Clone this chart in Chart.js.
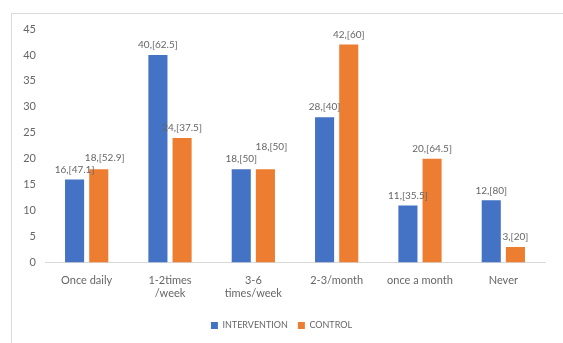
<!DOCTYPE html>
<html>
<head>
<meta charset="utf-8">
<script src="https://cdn.jsdelivr.net/npm/chart.js@4/dist/chart.umd.min.js"></script>
<style>
  html,body{margin:0;padding:0;background:#fff;}
  #frame{position:absolute;left:11px;top:13px;width:560px;height:340px;border-left:1px solid #d9d9d9;border-top:1px solid #d9d9d9;}
  #wrap{position:absolute;left:0;top:0;width:563px;height:343px;}
</style>
</head>
<body>
<div id="frame"></div>
<div id="wrap"><canvas id="c" width="563" height="343"></canvas></div>
<script>
const categories = ["Once daily", ["1-2times", "/week"], ["3-6", "times/week"], "2-3/month", "once a month", "Never"];
const interventionValues = [16, 40, 18, 28, 11, 12];
const interventionPct = [47.1, 62.5, 50, 40, 35.5, 80];
const controlValues = [18, 24, 18, 42, 20, 3];
const controlPct = [52.9, 37.5, 50, 60, 64.5, 20];
const yTicks = [0, 5, 10, 15, 20, 25, 30, 35, 40, 45];

const FONT = "Lato, 'Open Sans', sans-serif";
const TXT = "#666666";

const labelPlugin = {
  id: 'barLabels',
  afterDatasetsDraw(chart) {
    const ctx = chart.ctx;
    ctx.save();
    ctx.font = "10px " + FONT;
    ctx.fillStyle = TXT;
    ctx.textAlign = 'center';
    ctx.textBaseline = 'bottom';
    const placed = [];
    chart.data.datasets.forEach((ds, di) => {
      const meta = chart.getDatasetMeta(di);
      meta.data.forEach((bar, i) => {
        const txt = ds.data[i] + ",[" + ds.pct[i] + "]";
        const w = ctx.measureText(txt).width;
        let x = bar.x, y = bar.y - 5;
        placed.forEach(p => {
          if (Math.abs(p.x - x) < (p.w + w) / 2 + 2 && Math.abs(p.y - y) < 12) {
            y = p.y - 12;
            x = x + 6;
          }
        });
        placed.push({ x, y, w });
        ctx.fillText(txt, x, y);
      });
    });
    ctx.restore();
  }
};

new Chart(document.getElementById('c'), {
  type: 'bar',
  data: {
    labels: categories,
    datasets: [
      { label: 'INTERVENTION', data: interventionValues, pct: interventionPct, backgroundColor: '#4472C4' },
      { label: 'CONTROL', data: controlValues, pct: controlPct, backgroundColor: '#ED7D31' }
    ]
  },
  options: {
    responsive: false,
    animation: false,
    devicePixelRatio: 1,
    layout: { padding: { left: 18, right: 18, top: 29, bottom: 3 } },
    datasets: { bar: { categoryPercentage: 0.58, barPercentage: 0.79 } },
    scales: {
      x: {
        grid: { display: false, drawTicks: false },
        border: { color: '#d9d9d9' },
        ticks: { color: TXT, font: { family: FONT, size: 11 }, padding: 11, maxRotation: 0, autoSkip: false }
      },
      y: {
        min: 0, max: 45,
        afterFit(s) { s.width = 27; },
        afterBuildTicks(s) { s.ticks = yTicks.map(v => ({ value: v })); },
        grid: { display: false, drawTicks: false },
        border: { display: false },
        ticks: { color: TXT, font: { family: FONT, size: 11 }, padding: 9 }
      }
    },
    plugins: {
      legend: {
        position: 'bottom',
        labels: { color: TXT, font: { family: FONT, size: 9 }, boxWidth: 7, boxHeight: 7, padding: 10 }
      },
      tooltip: { enabled: false }
    }
  },
  plugins: [labelPlugin]
});
</script>
</body>
</html>
